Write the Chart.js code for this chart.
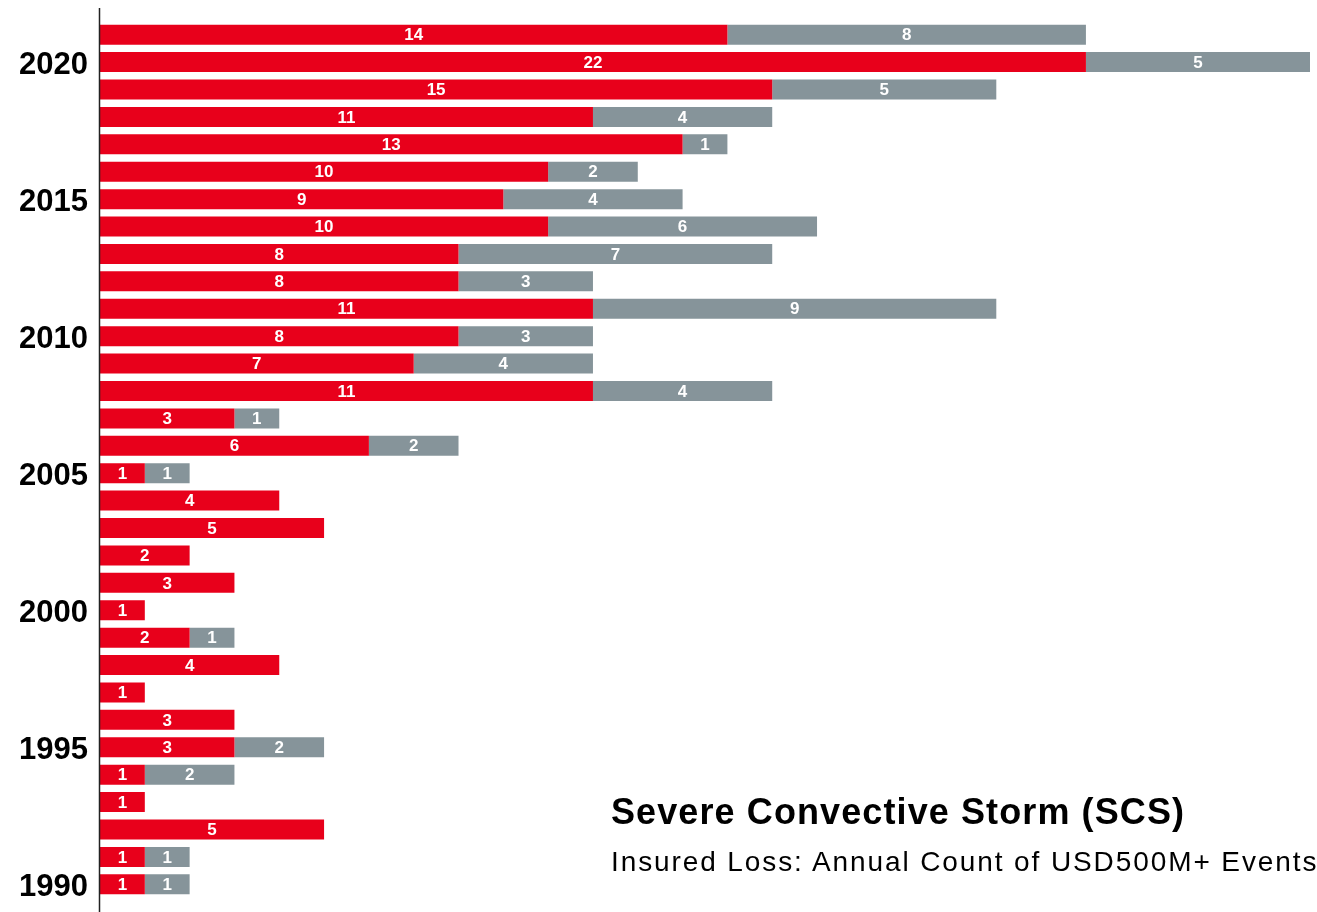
<!DOCTYPE html>
<html>
<head>
<meta charset="utf-8">
<script src="https://cdn.jsdelivr.net/npm/chart.js@4"></script>
<style>
  html, body { margin: 0; padding: 0; background: #fff; }
  #wrap { position: relative; width: 1317px; height: 912px; overflow: hidden; }
  #title { position: absolute; left: 611px; top: 792px; font-family: "Liberation Sans", Arial, sans-serif; font-weight: bold; font-size: 36px; letter-spacing: 1.1px; color: #000; white-space: nowrap; line-height: 40px; }
  #subtitle { position: absolute; left: 611px; top: 846px; font-family: "Liberation Sans", Arial, sans-serif; font-size: 28px; letter-spacing: 1.9px; color: #000; white-space: nowrap; line-height: 32px; }
</style>
</head>
<body>
<div id="wrap">
  <canvas id="c" width="1317" height="912"></canvas>
  <div id="title">Severe Convective Storm (SCS)</div>
  <div id="subtitle">Insured Loss: Annual Count of USD500M+ Events</div>
</div>
<script>
const years = ['2021','2020','2019','2018','2017','2016','2015','2014','2013','2012','2011','2010','2009','2008','2007','2006','2005','2004','2003','2002','2001','2000','1999','1998','1997','1996','1995','1994','1993','1992','1991','1990'];
const redValues  = [14,22,15,11,13,10,9,10,8,8,11,8,7,11,3,6,1,4,5,2,3,1,2,4,1,3,3,1,1,5,1,1];
const greyValues = [8,5,5,4,1,2,4,6,7,3,9,3,4,4,1,2,1,0,0,0,0,0,1,0,0,0,2,2,0,0,1,1];
const tickYears = ['2020','2015','2010','2005','2000','1995','1990'];

const RED = '#E8001B';
const GREY = '#86949A';

const labelPlugin = {
  id: 'barLabels',
  afterDatasetsDraw(chart) {
    const ctx = chart.ctx;
    ctx.save();
    ctx.fillStyle = '#fff';
    ctx.font = 'bold 17px "Liberation Sans", Arial, sans-serif';
    ctx.textAlign = 'center';
    ctx.textBaseline = 'middle';
    chart.data.datasets.forEach((ds, di) => {
      const meta = chart.getDatasetMeta(di);
      meta.data.forEach((bar, i) => {
        const v = ds.data[i];
        if (!v) return;
        const cx = (bar.x + bar.base) / 2;
        ctx.fillText(String(v), cx, bar.y + 1);
      });
    });
    ctx.restore();
  }
};

const axisLinePlugin = {
  id: 'axisLine',
  afterDraw(chart) {
    const ctx = chart.ctx;
    const x = chart.chartArea.left - 0.5;
    ctx.save();
    ctx.strokeStyle = '#222';
    ctx.lineWidth = 1.5;
    ctx.beginPath();
    ctx.moveTo(x, 8);
    ctx.lineTo(x, 912);
    ctx.stroke();
    ctx.restore();
  }
};

new Chart(document.getElementById('c'), {
  type: 'bar',
  data: {
    labels: years,
    datasets: [
      { data: redValues, backgroundColor: RED, barPercentage: 0.73, categoryPercentage: 1.0 },
      { data: greyValues, backgroundColor: GREY, barPercentage: 0.73, categoryPercentage: 1.0 }
    ]
  },
  options: {
    indexAxis: 'y',
    responsive: false,
    animation: false,
    devicePixelRatio: 1,
    layout: { padding: { left: 0, right: 7, top: 21, bottom: 14 } },
    plugins: { legend: { display: false }, tooltip: { enabled: false }, title: { display: false } },
    scales: {
      x: { stacked: true, display: false, min: 0, max: 27 },
      y: {
        stacked: true,
        grid: { display: false, drawTicks: false },
        border: { display: false },
        afterFit(scale) { scale.width = 100; scale.paddingTop = 0; scale.paddingBottom = 0; },
        ticks: {
          autoSkip: false,
          padding: 12,
          color: '#000',
          font: { family: '"Liberation Sans", Arial, sans-serif', weight: 'bold', size: 31, lineHeight: 0.2 },
          callback(val, idx) {
            const lab = years[idx];
            return tickYears.includes(lab) ? ['', lab] : '';
          }
        }
      }
    }
  },
  plugins: [labelPlugin, axisLinePlugin]
});
</script>
</body>
</html>
